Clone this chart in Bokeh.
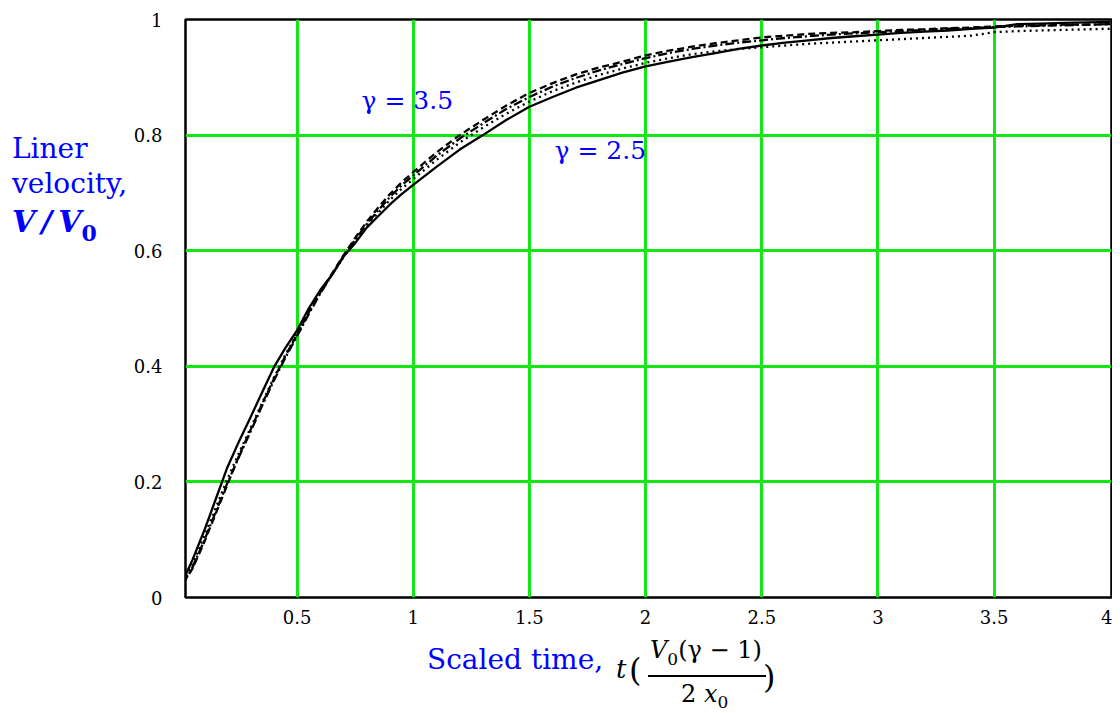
from bokeh.plotting import figure
from bokeh.models import Label, FixedTicker, Range1d, Div
from bokeh.layouts import row, column
from bokeh.embed import file_html
from bokeh.resources import INLINE

# ---------------- data ----------------
t = [0.01, 0.05, 0.1, 0.15, 0.2, 0.25, 0.3, 0.35, 0.4, 0.45, 0.5, 0.55, 0.6, 0.65, 0.7,
     0.75, 0.8, 0.85, 0.9, 0.95, 1.0, 1.1, 1.2, 1.3, 1.4, 1.5, 1.6, 1.7, 1.8, 1.9, 2.0,
     2.1, 2.2, 2.3, 2.4, 2.5, 2.6, 2.7, 2.8, 2.9, 3.0, 3.1, 3.2, 3.3, 3.4, 3.5, 3.6,
     3.7, 3.8, 3.9, 4.0]

v_solid = [0.030, 0.065, 0.115, 0.170, 0.225, 0.270, 0.312, 0.355, 0.398, 0.432, 0.462,
           0.500, 0.532, 0.558, 0.590, 0.613, 0.640, 0.660, 0.680, 0.698, 0.714, 0.745,
           0.775, 0.800, 0.826, 0.849, 0.866, 0.882, 0.895, 0.908, 0.919, 0.927, 0.935,
           0.942, 0.949, 0.955, 0.960, 0.964, 0.968, 0.971, 0.974, 0.977, 0.979, 0.981,
           0.984, 0.986, 0.992, 0.993, 0.994, 0.995, 0.996]

v_dashed = [0.025, 0.050, 0.095, 0.145, 0.195, 0.245, 0.290, 0.335, 0.378, 0.418, 0.455,
            0.493, 0.528, 0.560, 0.592, 0.622, 0.650, 0.675, 0.698, 0.718, 0.736, 0.770,
            0.800, 0.826, 0.851, 0.873, 0.890, 0.905, 0.917, 0.927, 0.938, 0.946, 0.953,
            0.959, 0.964, 0.969, 0.972, 0.975, 0.977, 0.978, 0.980, 0.982, 0.983, 0.985,
            0.986, 0.988, 0.989, 0.990, 0.991, 0.991, 0.992]

v_dashdot = [0.025, 0.052, 0.098, 0.148, 0.198, 0.243, 0.287, 0.332, 0.375, 0.415, 0.452,
             0.490, 0.526, 0.558, 0.590, 0.619, 0.646, 0.670, 0.693, 0.713, 0.730, 0.764,
             0.794, 0.820, 0.845, 0.866, 0.884, 0.899, 0.912, 0.923, 0.933, 0.942, 0.949,
             0.955, 0.960, 0.964, 0.968, 0.971, 0.974, 0.976, 0.978, 0.980, 0.982, 0.984,
             0.985, 0.987, 0.988, 0.989, 0.990, 0.991, 0.992]

v_dotted = [0.028, 0.058, 0.105, 0.155, 0.205, 0.250, 0.293, 0.337, 0.380, 0.420, 0.456,
            0.494, 0.528, 0.558, 0.589, 0.617, 0.643, 0.666, 0.688, 0.707, 0.724, 0.757,
            0.787, 0.813, 0.837, 0.858, 0.876, 0.891, 0.904, 0.915, 0.925, 0.933, 0.940,
            0.945, 0.949, 0.952, 0.955, 0.958, 0.960, 0.962, 0.964, 0.966, 0.968, 0.970,
            0.972, 0.978, 0.980, 0.981, 0.982, 0.983, 0.984]

x_ticks = [0.5, 1, 1.5, 2, 2.5, 3, 3.5, 4]
y_ticks = [0, 0.2, 0.4, 0.6, 0.8, 1]
x_grid = [0.5, 1, 1.5, 2, 2.5, 3, 3.5]
y_grid = [0.2, 0.4, 0.6, 0.8]

# ---------------- layout ----------------
LEFT_W = 130            # width of the left title column
FIG_W, FIG_H = 982, 631
BOT_H = 82
BL, BR, BT, BB = 55, 1, 19, 34
X0, X1 = 0.02, 4.005
Y0, Y1 = 0.0, 1.0
FW = FIG_W - BL - BR
FH = FIG_H - BT - BB
FRAME_L = LEFT_W + BL   # page x of frame left
FRAME_B = BT + FH       # page y of frame bottom

SERIF = "DejaVu Serif"
BLUE = "#0000ff"
GREEN = "#14e614"

p = figure(width=FIG_W, height=FIG_H, output_backend="svg", toolbar_location=None,
           x_range=Range1d(X0, X1), y_range=Range1d(Y0, Y1),
           min_border_left=BL, min_border_right=BR, min_border_top=BT,
           min_border_bottom=BB, margin=(0, 0, 0, 0))
p.background_fill_color = "white"
p.border_fill_color = "white"
p.outline_line_color = "black"
p.outline_line_width = 2.5

p.xaxis.ticker = FixedTicker(ticks=x_ticks)
p.yaxis.ticker = FixedTicker(ticks=y_ticks)
p.xaxis.major_label_overrides = {0.5: "0.5", 1: "1", 1.5: "1.5", 2: "2", 2.5: "2.5",
                                 3: "3", 3.5: "3.5", 4: "4"}
p.yaxis.major_label_overrides = {0: "0", 0.2: "0.2", 0.4: "0.4", 0.6: "0.6",
                                 0.8: "0.8", 1: "1"}
for ax in (p.xaxis, p.yaxis):
    ax.axis_line_color = None
    ax.major_tick_line_color = None
    ax.minor_tick_line_color = None
    ax.major_label_text_font = SERIF
    ax.major_label_text_font_size = "18px"
    ax.major_label_text_color = "black"
p.yaxis.major_label_standoff = 17
p.xaxis.major_label_standoff = 6

p.xgrid.ticker = FixedTicker(ticks=x_grid)
p.ygrid.ticker = FixedTicker(ticks=y_grid)
for g in (p.xgrid, p.ygrid):
    g.grid_line_color = GREEN
    g.grid_line_width = 3
    g.grid_line_alpha = 1.0

p.line(t, v_solid, line_color="black", line_width=2.3)
p.line(t, v_dashed, line_color="black", line_width=2.3, line_dash="7 4")
p.line(t, v_dashdot, line_color="black", line_width=2.3, line_dash="9 3 2 3")
p.line(t, v_dotted, line_color="black", line_width=2.3, line_dash="2 4")


# page pixel -> data coordinates (for the in-plot text labels)
def dx(px):
    return X0 + (px - FRAME_L) / FW * (X1 - X0)


def dy(py):
    return Y0 + (FRAME_B - py) / FH * (Y1 - Y0)


for txt, px, py in (("γ = 3.5", 361, 100), ("γ = 2.5", 554, 150)):
    p.add_layout(Label(x=dx(px), y=dy(py), text=txt, text_font=SERIF,
                       text_font_size="25px", text_color=BLUE,
                       text_align="left", text_baseline="middle"))


def span(text, left, top, size, color, style="", weight="normal"):
    return (f'<span style="position:absolute;left:{left}px;top:{top}px;'
            f'font-size:{size}px;line-height:{size}px;color:{color};'
            f'font-style:{style or "normal"};font-weight:{weight};'
            f'white-space:nowrap;">{text}</span>')


def sub(text, size, drop, weight="normal"):
    return (f'<span style="font-size:{size}px;position:relative;top:{drop}px;'
            f'font-style:normal;font-weight:{weight};">{text}</span>')


left_html = ('<div style="position:relative;width:%dpx;height:%dpx;'
             'font-family:\'DejaVu Serif\';">' % (LEFT_W, FIG_H + BOT_H)
             + span("Liner", 12, 135, 28, BLUE)
             + span("velocity,", 12, 170, 28, BLUE)
             + span("V&#8201;/&#8201;V" + sub("0", 22, 9, "bold"),
                    12, 207, 30, BLUE, "italic", "bold")
             + '</div>')

ox, oy = LEFT_W, FIG_H   # page origin of the bottom block
bot_html = ('<div style="position:relative;width:%dpx;height:%dpx;overflow:visible;'
            'font-family:\'DejaVu Serif\';">' % (FIG_W, BOT_H)
            + span("Scaled time,", 427 - ox, 659 - 13 - oy, 28, BLUE)
            + span("t", 616 - ox, 668 - 12 - oy, 26, "black", "italic")
            + span("(", 629 - ox, 671 - 17 - oy, 32, "black")
            + span("<i>V</i>" + sub("0", 17, 7) + "(γ − 1)", 650 - ox, 650 - 12 - oy, 24,
                   "black")
            + '<div style="position:absolute;left:%dpx;top:%dpx;width:118px;'
              'height:0px;border-top:2px solid black;"></div>' % (648 - ox, 675 - oy)
            + span("2 <i>x</i>" + sub("0", 17, 6), 681 - ox, 694 - 12 - oy, 24, "black")
            + span(")", 763 - ox, 678 - 17 - oy, 32, "black")
            + '</div>')

left_div = Div(text=left_html, width=LEFT_W, height=FIG_H + BOT_H, margin=(0, 0, 0, 0))
bot_div = Div(text=bot_html, width=FIG_W, height=BOT_H, margin=(0, 0, 0, 0))

layout = row(left_div, column(p, bot_div, spacing=0), spacing=0)

open("out.html", "w").write(file_html(layout, INLINE))
